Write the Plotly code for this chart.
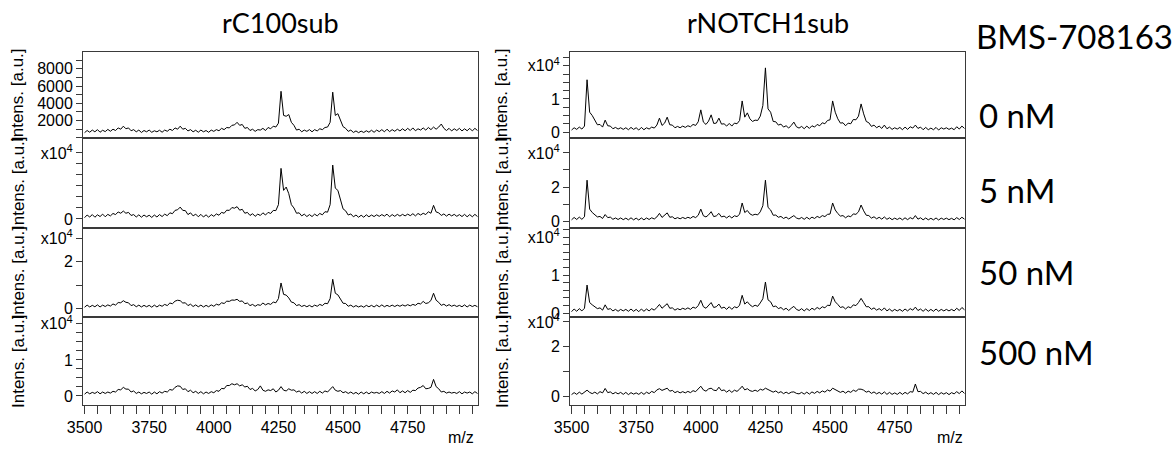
import plotly.graph_objects as go

# m/z grid (step 10)
MZ = list(range(3500, 5030, 10))

# ---- rC100sub spectra (intensity, a.u.) ----
C100_0nM = [
    600, 850, 650, 900, 700, 950, 650, 880, 720, 980,
    760, 1000, 850, 1150, 1000, 1350, 1050, 1150, 820, 950,
    700, 900, 620, 850, 700, 900, 640, 820, 700, 880,
    650, 900, 760, 1000, 850, 1150, 1000, 1350, 1000, 1100,
    800, 950, 700, 880, 650, 900, 700, 850, 640, 900,
    750, 950, 820, 1100, 950, 1200, 1150, 1450, 1500, 1800,
    1450, 1550, 1100, 1200, 850, 1000, 750, 950, 900, 1100,
    850, 1200, 1050, 1350, 1250, 1700, 5400, 2600, 2500, 2700,
    1800, 1450, 900, 1000, 700, 900, 750, 950, 700, 950,
    800, 1050, 950, 1200, 1250, 1800, 5300, 2600, 2800, 2100,
    1300, 1100, 750, 900, 620, 800, 600, 780, 620, 820,
    650, 880, 640, 900, 720, 950, 700, 1000, 720, 950,
    760, 1000, 800, 1050, 820, 1100, 850, 1150, 820, 1050,
    900, 1150, 900, 1200, 950, 1250, 1000, 1250, 1600, 1100,
    850, 1100, 800, 1050, 850, 1100, 800, 1050, 820, 1100,
    800, 1100, 850]
C100_5nM = [
    600, 1800, 900, 2000, 800, 1900, 1100, 2200, 1000, 2100,
    1400, 2500, 2000, 3200, 2600, 3600, 2600, 3000, 1600, 2000,
    900, 1900, 800, 1800, 1000, 1700, 700, 1800, 900, 2000,
    1100, 2200, 1500, 2800, 2400, 3900, 4200, 5400, 3900, 3800,
    2000, 2800, 1400, 2200, 1000, 2100, 900, 1900, 800, 2000,
    1200, 2300, 1700, 3000, 2600, 4000, 3900, 5200, 4900, 5600,
    4000, 4400, 2600, 3000, 1600, 2400, 1200, 2200, 1600, 2800,
    1800, 3000, 2500, 3900, 3800, 6500, 23000, 13000, 14500, 11500,
    6500, 5000, 2600, 2800, 1400, 2200, 1100, 2000, 1100, 2200,
    1400, 2500, 1900, 3300, 3100, 6500, 24500, 14000, 13000, 9000,
    4600, 3700, 1800, 2300, 1000, 1800, 800, 1700, 800, 1900,
    1000, 1800, 1100, 1900, 1200, 2000, 1300, 2200, 1000, 2000,
    1200, 2100, 1300, 2100, 1400, 2200, 1500, 2400, 1400, 2500,
    1800, 2600, 2000, 3300, 2600, 6200, 3200, 2800, 1600, 2300,
    1300, 2200, 1400, 2100, 1200, 2000, 1100, 2100, 1000, 2000,
    1000, 2100, 1100]
C100_50nM = [
    500, 1400, 600, 1300, 700, 1500, 600, 1400, 800, 1500,
    1000, 1900, 1400, 2500, 2400, 3300, 2600, 2400, 1200, 1600,
    700, 1400, 600, 1300, 700, 1300, 500, 1400, 600, 1400,
    900, 1700, 1200, 2300, 2000, 3100, 3500, 3300, 2300, 2400,
    1200, 1800, 800, 1500, 700, 1400, 600, 1300, 700, 1500,
    900, 1800, 1400, 2400, 2100, 3100, 3000, 3600, 3500, 3900,
    3000, 3200, 2000, 2300, 1200, 1700, 900, 1600, 1300, 2300,
    1500, 2100, 1700, 2700, 2400, 4200, 10900, 6000, 5700, 4500,
    2700, 2400, 1200, 1600, 800, 1300, 700, 1300, 600, 1400,
    900, 1700, 1200, 2200, 2000, 4200, 12500, 6500, 5800, 4000,
    2200, 2100, 900, 1400, 600, 1200, 600, 1100, 500, 1300,
    700, 1300, 600, 1400, 700, 1500, 700, 1300, 800, 1400,
    800, 1400, 900, 1500, 1000, 1600, 1100, 1700, 1300, 2200,
    1900, 3000, 2100, 2400, 3400, 6500, 3500, 2600, 1300, 1800,
    1000, 1600, 900, 1400, 800, 1300, 700, 1500, 600, 1400,
    800, 1300, 700]
C100_500nM = [
    500, 1100, 600, 1000, 700, 1200, 600, 1100, 700, 1100,
    800, 1300, 1100, 1800, 1700, 2400, 1900, 1900, 1100, 1400,
    700, 1100, 600, 1000, 700, 1100, 500, 1100, 600, 1200,
    800, 1300, 1100, 1800, 1600, 2400, 2800, 2700, 1800, 2000,
    1200, 1600, 900, 1300, 700, 1200, 600, 1100, 700, 1200,
    900, 1500, 1300, 2100, 2000, 2900, 2900, 3400, 3100, 3400,
    2800, 3100, 2500, 2700, 1800, 2100, 1400, 1800, 2800, 1600,
    1300, 1700, 1500, 2000, 1100, 1600, 2600, 1600, 1400, 2000,
    1600, 1700, 1100, 1400, 800, 1300, 700, 1200, 700, 1200,
    700, 1300, 800, 1400, 1100, 1800, 2600, 1600, 1300, 1500,
    900, 1200, 700, 1100, 600, 1000, 500, 1100, 600, 1100,
    600, 1100, 800, 1000, 700, 1200, 700, 1300, 800, 1400,
    1100, 1700, 900, 1400, 900, 1500, 1000, 1600, 1500, 2200,
    2400, 2900, 2000, 2100, 2400, 4600, 2600, 2000, 1100, 1300,
    800, 1100, 800, 1000, 700, 1200, 600, 1100, 800, 1100,
    600, 1200, 700]

# ---- rNOTCH1sub spectra (intensity, a.u.) ----
N1_0nM = [
    600, 1300, 800, 1500, 900, 1800, 15800, 6000, 5000, 3500,
    2200, 2300, 1500, 3600, 1900, 1800, 1000, 1400, 900, 1300,
    800, 1300, 700, 1400, 800, 1300, 600, 1400, 700, 1300,
    900, 1500, 1200, 2100, 4200, 2000, 2700, 4500, 2200, 2100,
    1300, 1700, 1300, 1800, 1400, 1900, 1600, 2300, 2000, 3100,
    6700, 3000, 2300, 3300, 5200, 2600, 2700, 4200, 2400, 2500,
    1800, 2600, 1800, 2700, 2500, 3500, 9400, 4500, 5800, 4000,
    3200, 3600, 3500, 4800, 8000, 19400, 7000, 6000, 3200, 3100,
    2100, 2400, 1500, 1900, 1200, 2000, 3000, 1600, 1200, 1700,
    1000, 1800, 1100, 1900, 1500, 2300, 1900, 2800, 2500, 3500,
    3700, 9400, 6000, 4000, 2700, 2800, 1900, 2700, 2500, 3800,
    3700, 4800, 8500, 5500, 3200, 2800, 1700, 2100, 1300, 1800,
    1100, 2100, 1000, 1500, 800, 1300, 900, 1400, 700, 1500,
    800, 1600, 1200, 2100, 1100, 1500, 700, 1400, 700, 1200,
    700, 1400, 600, 1300, 900, 1300, 800, 1200, 700, 1600,
    900, 1800, 1100]
N1_5nM = [
    700, 2100, 900, 2300, 1000, 2500, 24000, 7000, 5000, 3500,
    2400, 2700, 1500, 3800, 2000, 2300, 1000, 1800, 900, 1800,
    800, 1700, 700, 1900, 700, 1700, 600, 1800, 700, 1800,
    900, 1900, 1200, 2400, 4500, 2100, 3200, 4800, 2200, 2500,
    1300, 2000, 1300, 2100, 1400, 2200, 1600, 2700, 2000, 3400,
    7000, 3100, 2400, 3600, 5500, 2600, 3000, 4500, 2400, 2900,
    1800, 3000, 1800, 3100, 2600, 4000, 10600, 5000, 6200, 4200,
    3400, 4000, 3600, 5400, 9000, 24000, 8000, 6500, 3400, 3500,
    2200, 2700, 1500, 2300, 1200, 2400, 3200, 1800, 1200, 2100,
    1000, 2200, 1100, 2300, 1500, 2700, 2000, 3200, 2600, 3900,
    4100, 10600, 6500, 4400, 2900, 3200, 1900, 3000, 2500, 4200,
    3900, 5400, 9400, 6000, 3400, 3200, 1700, 2500, 1300, 2200,
    1100, 2400, 1000, 1900, 800, 1700, 900, 1800, 700, 1900,
    800, 2000, 1200, 3200, 1100, 1900, 700, 1800, 700, 1600,
    700, 1800, 600, 1700, 900, 1700, 800, 1600, 700, 2000,
    900, 2200, 1100]
N1_50nM = [
    400, 1100, 500, 1200, 600, 1300, 7400, 2800, 2200, 1700,
    1200, 1400, 800, 2200, 1000, 1200, 600, 1000, 500, 1000,
    600, 1000, 500, 1100, 500, 1000, 400, 1100, 500, 1100,
    600, 1200, 800, 1500, 2300, 1300, 1800, 2500, 1300, 1400,
    800, 1200, 900, 1300, 1000, 1400, 1000, 1600, 1300, 2000,
    3400, 1700, 1300, 2000, 2800, 1500, 1700, 2400, 1300, 1600,
    1000, 1700, 1000, 1700, 1400, 2100, 4700, 2400, 3000, 2200,
    1700, 2100, 1800, 2700, 3800, 8200, 3500, 3000, 1700, 1900,
    1200, 1500, 900, 1300, 700, 1300, 1800, 1000, 700, 1200,
    600, 1200, 700, 1300, 900, 1500, 1100, 1700, 1400, 2100,
    2000, 4500, 3000, 2300, 1500, 1700, 1100, 1700, 1400, 2200,
    2000, 2800, 3900, 2800, 1700, 1700, 1000, 1400, 800, 1200,
    700, 1400, 600, 1100, 500, 1000, 600, 1000, 500, 1100,
    600, 1200, 800, 1600, 700, 1100, 500, 1100, 500, 1000,
    500, 1100, 500, 1000, 600, 1000, 600, 1000, 600, 1300,
    700, 1500, 900]
N1_500nM = [
    600, 1400, 700, 1600, 800, 1700, 2400, 1500, 1000, 1600,
    900, 1800, 1300, 3100, 1400, 1700, 900, 1500, 900, 1500,
    700, 1500, 600, 1400, 800, 1300, 700, 1500, 700, 1600,
    1000, 1900, 1400, 2500, 3000, 2300, 2800, 3200, 2000, 2300,
    1400, 1900, 1300, 1800, 1300, 1900, 1400, 2200, 1800, 2900,
    4000, 2500, 2000, 2900, 3200, 2400, 2200, 3600, 2200, 2500,
    1600, 2400, 1500, 2400, 1900, 2800, 4000, 2500, 3000, 2200,
    1900, 2400, 1900, 2800, 2400, 3200, 2600, 2100, 1600, 2100,
    1300, 1800, 1000, 1600, 1000, 1600, 1700, 1100, 900, 1500,
    800, 1600, 800, 1700, 1100, 1900, 1300, 2100, 1600, 2500,
    2000, 3200, 2600, 2200, 1500, 2000, 1200, 2000, 1500, 2400,
    1900, 2800, 2800, 2400, 1600, 2000, 1100, 1700, 900, 1500,
    800, 1700, 700, 1500, 700, 1300, 700, 1500, 700, 1500,
    900, 1800, 1600, 4900, 1800, 1900, 1000, 1600, 800, 1400,
    700, 1500, 600, 1400, 800, 1400, 600, 1400, 900, 1800,
    1000, 2100, 1100]

COLUMN_TITLES = ["rC100sub", "rNOTCH1sub"]
CONDITION_TITLE = "BMS-708163"
CONDITIONS = ["0 nM", "5 nM", "50 nM", "500 nM"]

SPECTRA = [
    [C100_0nM, N1_0nM],
    [C100_5nM, N1_5nM],
    [C100_50nM, N1_50nM],
    [C100_500nM, N1_500nM],
]

X10 = "x10<sup>4</sup>"
# y ranges and ticks for each panel [row][col]
Y_RANGES = [
    [[-20, 9960], [-1800, 24200]],
    [[-4100, 36800], [-4100, 48800]],
    [[-3700, 34500], [-1000, 22400]],
    [[-2500, 21900], [-3600, 32000]],
]
Y_TICKVALS = [
    [list(range(0, 10000, 1000)), list(range(0, 22501, 2500))],
    [list(range(0, 30001, 5000)), list(range(0, 40001, 10000))],
    [list(range(0, 30001, 10000)), list(range(0, 22001, 2000))],
    [list(range(0, 20001, 2500)), list(range(0, 30001, 10000))],
]
Y_TICKLABELS = [
    [{2000: "2000", 4000: "4000", 6000: "6000", 8000: "8000"},
     {0: "0", 10000: "1", 20000: X10}],
    [{0: "0", 30000: X10}, {0: "0", 20000: "2", 40000: X10}],
    [{0: "0", 20000: "2", 30000: X10}, {0: "0", 10000: "1", 20000: X10}],
    [{0: "0", 10000: "1", 20000: X10}, {0: "0", 20000: "2", 30000: X10}],
]

X_RANGE = [3494, 5022]
X_TICKVALS = list(range(3500, 5001, 50))
X_TICKTEXT = [str(v) if v % 250 == 0 and v < 5000 else " " for v in X_TICKVALS]

W, H = 1173, 454
COL_PX = [(83, 478), (570, 965)]
ROW_PX = [(52, 138), (138, 228), (228, 317), (317, 405)]

TICKFONT = dict(family="Liberation Sans, Arial, sans-serif", size=16, color="black")
FRAME = "#3a3a3a"

fig = go.Figure()
layout = {}
annotations = []

n = 0
for r in range(4):
    for c in range(2):
        n += 1
        xa = "x" if n == 1 else f"x{n}"
        ya = "y" if n == 1 else f"y{n}"
        xkey = "xaxis" if n == 1 else f"xaxis{n}"
        ykey = "yaxis" if n == 1 else f"yaxis{n}"
        fig.add_trace(go.Scatter(
            x=MZ, y=SPECTRA[r][c], mode="lines",
            line=dict(color="black", width=1),
            xaxis=xa, yaxis=ya, showlegend=False, hoverinfo="skip"))
        x0, x1 = COL_PX[c]
        y0, y1 = ROW_PX[r]
        bottom = r == 3
        layout[xkey] = dict(
            domain=[x0 / W, x1 / W], anchor=ya, range=X_RANGE, automargin=False,
            showline=True, mirror=True, linecolor=FRAME, linewidth=1,
            showgrid=False, zeroline=False,
            tickvals=X_TICKVALS if bottom else [],
            ticktext=X_TICKTEXT if bottom else [],
            ticks="outside" if bottom else "", ticklen=8, tickcolor=FRAME,
            showticklabels=bottom, tickfont=TICKFONT, tickangle=0,
        )
        labels = Y_TICKLABELS[r][c]
        tv = Y_TICKVALS[r][c]
        layout[ykey] = dict(
            domain=[(H - y1) / H, (H - y0) / H], anchor=xa, automargin=False,
            range=Y_RANGES[r][c],
            showline=True, mirror=True, linecolor=FRAME, linewidth=1,
            showgrid=False, zeroline=False,
            tickvals=tv, ticktext=[labels.get(v, " ") for v in tv],
            ticks="outside", ticklen=6, tickcolor=FRAME,
            tickfont=TICKFONT, tickangle=0,
        )
        # y-axis title per panel
        annotations.append(dict(
            text="Intens. [a.u.]", textangle=-90,
            x=(18 if c == 0 else 502) / W, y=(H - (y0 + y1) / 2) / H,
            xref="paper", yref="paper", showarrow=False,
            xanchor="center", yanchor="middle",
            font=dict(family="Liberation Sans, Arial, sans-serif", size=17, color="black")))

TITLEFONT = dict(family="Lato, Noto Sans, sans-serif", size=27, color="black")
SIDEFONT = dict(family="Lato, Noto Sans, sans-serif", size=33, color="black")
for c, t in enumerate(COLUMN_TITLES):
    cx = (COL_PX[c][0] + COL_PX[c][1]) / 2 / W
    annotations.append(dict(text=t, x=cx, y=(H - 22) / H, xref="paper", yref="paper",
                            showarrow=False, xanchor="center", yanchor="middle",
                            font=TITLEFONT))
annotations.append(dict(text=CONDITION_TITLE, x=974 / W, y=(H - 36) / H, xref="paper",
                        yref="paper", showarrow=False, xanchor="left", yanchor="middle",
                        font=SIDEFONT))
for r, t in enumerate(CONDITIONS):
    yc = [115, 190, 272, 352][r]
    annotations.append(dict(text=t, x=977 / W, y=(H - yc) / H, xref="paper", yref="paper",
                            showarrow=False, xanchor="left", yanchor="middle",
                            font=SIDEFONT))
for c in range(2):
    annotations.append(dict(text="m/z", x=(461 if c == 0 else 950) / W, y=(H - 437) / H,
                            xref="paper", yref="paper", showarrow=False,
                            xanchor="center", yanchor="middle",
                            font=dict(family="Liberation Sans, Arial, sans-serif", size=16,
                                      color="black")))

fig.update_layout(
    width=W, height=H, margin=dict(l=0, r=0, t=0, b=0, pad=0),
    paper_bgcolor="white", plot_bgcolor="white",
    annotations=annotations, **layout)

fig.write_html("out.html", config={"displayModeBar": False},
               post_script="document.body.style.margin='0px';")
